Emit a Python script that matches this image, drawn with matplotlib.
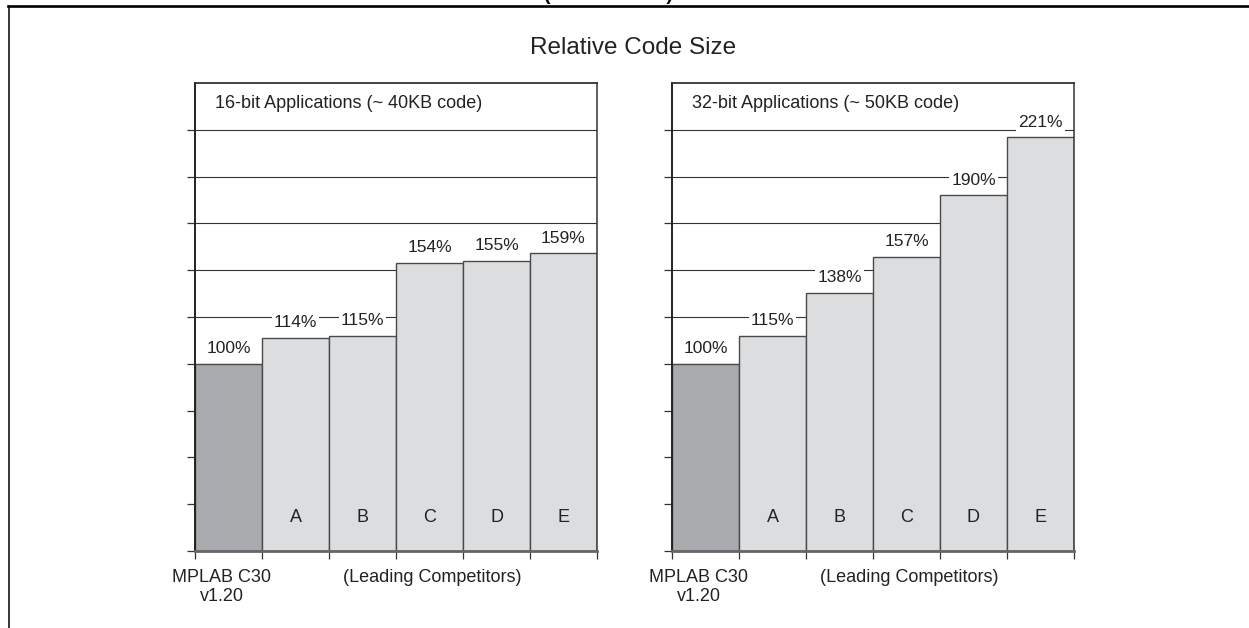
import matplotlib.pyplot as plt
from matplotlib.lines import Line2D

plt.rcParams['font.family'] = ['Liberation Sans', 'DejaVu Sans']

# relative code size, MPLAB C30 = 100%
compilers = ["", "A", "B", "C", "D", "E"]
size_16bit = [100, 114, 115, 154, 155, 159]
size_32bit = [100, 115, 138, 157, 190, 221]
panel_titles = ["16-bit Applications (~ 40KB code)",
                "32-bit Applications (~ 50KB code)"]

W, H = 1249, 628
fig = plt.figure(figsize=(W / 100, H / 100), dpi=100)

# page frame (top rule + left rule) and the clipped caption above it
fig.add_artist(Line2D([8 / W, 1], [1 - 5.5 / H, 1 - 5.5 / H], color="black", lw=1.9,
                      transform=fig.transFigure))
fig.add_artist(Line2D([9 / W, 9 / W], [0, 1 - 5.5 / H], color="black", lw=1.1,
                      transform=fig.transFigure))
fig.text(608 / W, 1.0 + 0.5 / H, "(CONTINUED)", ha="center", va="baseline",
         fontsize=14, fontweight="bold")

fig.text(633.5 / W, 1 - 48 / H, "Relative Code Size", ha="center", va="center",
         fontsize=17.5, color="#222222")

ax_w, ax_h = 402 / W, 468 / H
ax_bottom = (H - 551) / H
lefts = [195 / W, 672 / W]

for left, values, title in zip(lefts, [size_16bit, size_32bit], panel_titles):
    ax = fig.add_axes([left, ax_bottom, ax_w, ax_h])
    colors = ["#a9aaad"] + ["#dcdddf"] * (len(values) - 1)
    ax.bar(range(len(values)), values, width=1, align="edge", color=colors,
           edgecolor="#4a4a4a", linewidth=1.0, zorder=2)

    ax.set_xlim(0, len(values))
    ax.set_ylim(0, 250)
    ax.set_yticks(range(0, 250, 25))
    ax.set_xticks(range(len(values) + 1))
    ax.set_yticklabels([])
    ax.set_xticklabels([])
    ax.tick_params(axis="both", direction="out", length=6, width=0.9, color="#333333")
    ax.set_axisbelow(True)
    ax.yaxis.grid(True, color="#333333", linewidth=0.8)

    ax.spines["left"].set_color("#222222")
    ax.spines["left"].set_linewidth(1.4)
    ax.spines["top"].set_color("#333333")
    ax.spines["top"].set_linewidth(1.3)
    ax.spines["right"].set_color("#333333")
    ax.spines["right"].set_linewidth(1.1)
    ax.spines["bottom"].set_color("#666666")
    ax.spines["bottom"].set_linewidth(2.0)

    for i, v in enumerate(values):
        ax.annotate(f"{v}%", (i + 0.5, v), xytext=(0, 5.5), textcoords="offset points",
                    ha="center", va="bottom", fontsize=12.5, color="#222222", zorder=4,
                    bbox=dict(fc="white", ec="none", pad=1.5))
        if compilers[i]:
            ax.text(i + 0.5, 18, compilers[i], ha="center", va="center",
                    fontsize=13, color="#222222", zorder=4)

    ax.text(0.05, 0.957, title, transform=ax.transAxes, ha="left", va="center",
            fontsize=13, color="#222222")

    xt = ax.get_xaxis_transform()
    ax.text(0.4, -0.0556, "MPLAB C30", transform=xt, ha="center", va="center",
            fontsize=13, color="#222222")
    ax.text(0.4, -0.098, "v1.20", transform=xt, ha="center", va="center",
            fontsize=13, color="#222222")
    ax.text(3.54, -0.0556, "(Leading Competitors)", transform=xt, ha="center",
            va="center", fontsize=13, color="#222222")

fig.savefig("out.png", dpi=100)
